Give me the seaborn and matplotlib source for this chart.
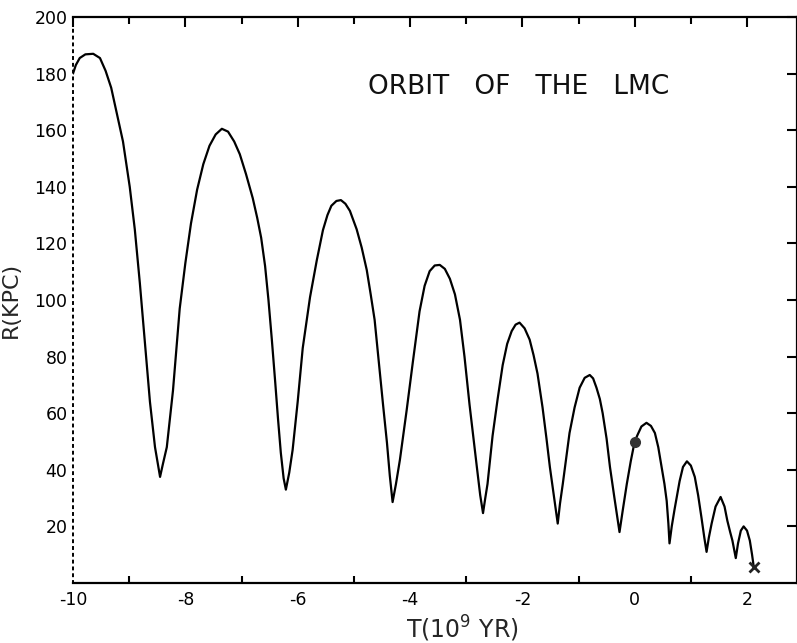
import matplotlib
matplotlib.use("Agg")
import matplotlib.pyplot as plt
import seaborn as sns
import pandas as pd

# Galactocentric distance of the LMC along its orbit (time in 10^9 yr, R in kpc)
orbit_t = [
    -10.0, -9.95, -9.88, -9.78, -9.64, -9.52, -9.42, -9.32, -9.22, -9.11, -8.99,
    -8.90, -8.81, -8.72, -8.63, -8.54, -8.45,
    -8.40, -8.33, -8.22, -8.10, -8.00, -7.90, -7.79, -7.68, -7.57, -7.46, -7.35,
    -7.24, -7.13, -7.03, -6.92, -6.80, -6.72, -6.65, -6.58, -6.52, -6.46, -6.40,
    -6.35, -6.30, -6.25, -6.21,
    -6.15, -6.09, -6.00, -5.91, -5.78, -5.66, -5.55, -5.47, -5.40, -5.31, -5.23,
    -5.15, -5.07, -4.95, -4.86, -4.77, -4.70, -4.63, -4.55, -4.48, -4.41, -4.36,
    -4.31,
    -4.25, -4.18, -4.06, -3.95, -3.83, -3.74, -3.65, -3.56, -3.47, -3.38, -3.29,
    -3.20, -3.11, -3.03, -2.94, -2.87, -2.81, -2.75, -2.70,
    -2.66, -2.62, -2.53, -2.44, -2.35, -2.27, -2.19, -2.12, -2.05, -1.96, -1.87,
    -1.80, -1.73, -1.64, -1.57, -1.51, -1.44, -1.37,
    -1.33, -1.28, -1.22, -1.16, -1.07, -0.98, -0.89, -0.80, -0.74, -0.68, -0.62,
    -0.57, -0.50, -0.44, -0.36, -0.27,
    -0.21, -0.14, -0.07, 0.00, 0.05, 0.12, 0.21, 0.29, 0.36, 0.42, 0.48, 0.53,
    0.57, 0.60, 0.62,
    0.66, 0.71, 0.80, 0.86, 0.93, 1.00, 1.07, 1.13, 1.19, 1.24, 1.28,
    1.32, 1.37, 1.44, 1.53, 1.60, 1.65, 1.70, 1.74, 1.80,
    1.84, 1.89, 1.94, 2.00, 2.05, 2.09, 2.12,
]
orbit_r = [
    180.0, 183.0, 185.5, 186.8, 187.0, 185.5, 181.0, 175.0, 166.0, 156.0, 140.0,
    125.0, 106.0, 85.0, 64.0, 48.0, 37.5,
    42.0, 48.0, 68.0, 97.0, 113.0, 127.0, 139.0, 148.0, 154.5, 158.5, 160.5,
    159.5, 156.0, 151.5, 144.5, 136.0, 129.0, 122.0, 112.0, 100.0, 86.0, 71.0,
    58.0, 46.0, 37.0, 33.0,
    39.0, 47.0, 64.0, 83.0, 101.0, 114.0, 124.7, 130.0, 133.3, 135.0, 135.3,
    134.0, 131.5, 125.0, 118.5, 110.6, 102.0, 93.0, 77.0, 63.0, 49.5, 38.0,
    28.6,
    35.0, 43.5, 61.0, 78.0, 96.0, 105.0, 110.2, 112.2, 112.4, 111.0, 107.5,
    102.0, 93.0, 80.0, 63.0, 51.0, 41.0, 31.0, 24.7,
    30.0, 35.0, 52.0, 65.0, 77.0, 84.5, 89.0, 91.3, 92.0, 90.0, 86.0,
    80.5, 74.0, 62.0, 51.0, 41.0, 31.0, 21.0,
    28.0, 35.0, 44.0, 53.0, 62.0, 69.0, 72.5, 73.5, 72.3, 69.0, 65.0,
    60.0, 51.0, 41.0, 30.0, 18.0,
    26.0, 35.0, 43.0, 50.0, 52.3, 55.3, 56.6, 55.5, 53.0, 48.0, 41.0, 35.0,
    29.0, 21.0, 14.0,
    20.0, 26.0, 36.0, 41.0, 43.0, 41.5, 37.5, 31.0, 23.0, 16.0, 11.0,
    16.0, 21.0, 27.0, 30.4, 27.0, 22.0, 18.0, 15.0, 8.8,
    14.0, 18.5, 20.0, 18.5, 15.0, 10.0, 5.7,
]

# Present position and end of the integration
now_t, now_r = [0.0], [50.0]
end_t, end_r = [2.12], [5.7]

x_ticks = [-10, -8, -6, -4, -2, 0, 2]
x_minor = [-9, -7, -5, -3, -1, 1]
y_ticks = [20, 40, 60, 80, 100, 120, 140, 160, 180, 200]

sns.set_theme(style="white")
plt.rcParams["font.family"] = ["DejaVu Sans"]

df = pd.DataFrame({"T": orbit_t, "R": orbit_r})

fig = plt.figure(figsize=(7.97, 6.43), dpi=100)
ax = fig.add_axes([73 / 797, 60 / 643, 724 / 797, 566 / 643])

sns.lineplot(data=df, x="T", y="R", sort=False, estimator=None,
             color="black", linewidth=1.6, ax=ax)
ax.plot(now_t, now_r, "o", color="#333333", markersize=7)
ax.plot(end_t, end_r, "x", color="#222222", markersize=7, mew=2)

ax.set_xlim(-10, 2.89)
ax.set_ylim(0, 200)

ax.set_xticks(x_ticks)
ax.set_xticklabels([str(v) for v in x_ticks])
ax.set_xticks(x_minor, minor=True)
ax.set_yticks(y_ticks)
ax.set_yticklabels([str(v) for v in y_ticks])

ax.tick_params(axis="both", which="major", direction="in", colors="black",
               labelsize=12.5, length=7, width=1.5, top=True, right=True)
ax.tick_params(axis="x", which="minor", direction="in", length=5, width=1.5,
               top=True, bottom=True, colors="black")
ax.tick_params(axis="x", pad=6)
ax.tick_params(axis="y", pad=4)

for side in ["top", "bottom", "right"]:
    ax.spines[side].set_color("black")
    ax.spines[side].set_linewidth(1.6)
ax.spines["left"].set_color("black")
ax.spines["left"].set_linewidth(1.4)
ax.spines["left"].set_linestyle((0, (1, 2.5)))

ax.set_xlabel("T(10$^{9}$ YR)", fontsize=17, labelpad=2)
ax.xaxis.set_label_coords((462 - 73) / 724, -0.055, transform=ax.transAxes)
ax.xaxis.label.set_verticalalignment("top")
ax.set_ylabel("R(KPC)", fontsize=16, labelpad=10)

ax.text((519 - 73) / 724, (583 - 87) / 566, "ORBIT   OF   THE   LMC",
        transform=ax.transAxes, fontsize=19, ha="center", va="center",
        color="#111111")
ax.grid(False)

fig.savefig("out.png", dpi=100, facecolor="white")
